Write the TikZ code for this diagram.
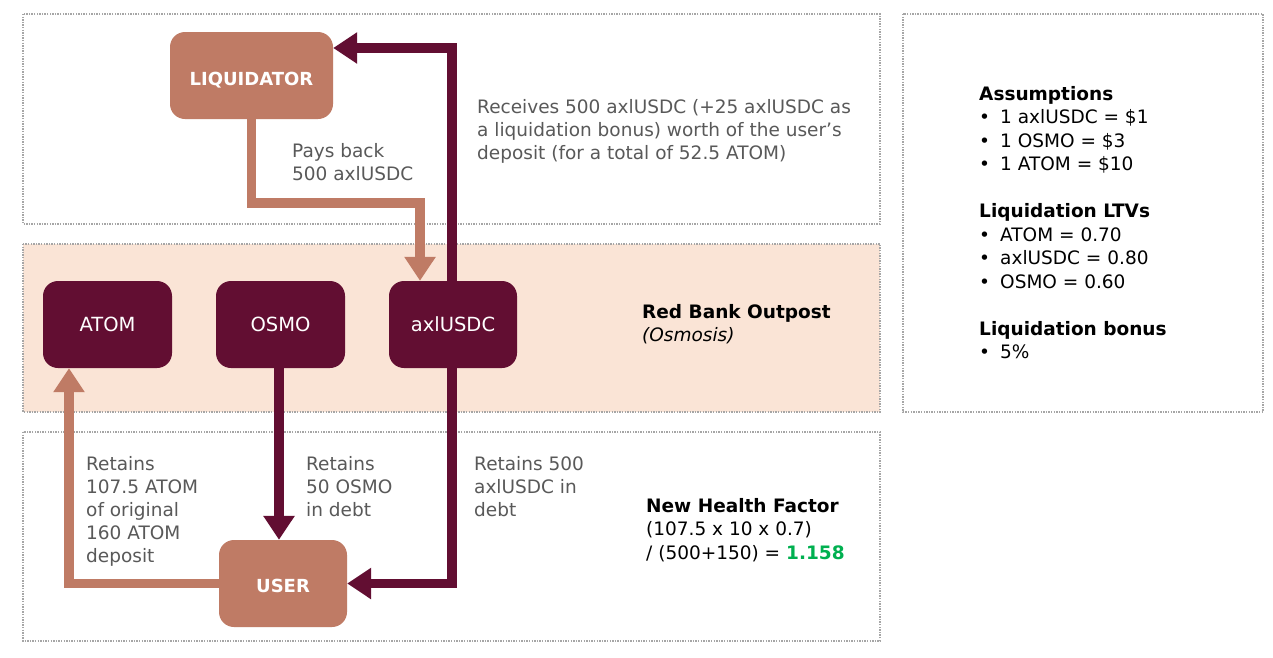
\documentclass[tikz,border=0pt]{standalone}
\usepackage{fontspec}
\setmainfont{DejaVu Sans}
\usetikzlibrary{arrows.meta,calc}
\definecolor{tanc}{HTML}{BF7B65}
\definecolor{darkc}{HTML}{620E32}
\definecolor{bandc}{HTML}{FAE4D6}
\definecolor{grayt}{HTML}{595959}
\definecolor{borderc}{HTML}{A6A6A6}
\definecolor{greenc}{HTML}{00B050}
\newcommand{\mlines}[1]{\begin{tabular}[t]{@{}l@{}}#1\end{tabular}}
\newcommand{\bul}{\makebox[21pt][l]{•}}
\begin{document}
\begin{tikzpicture}[x=1pt,y=-1pt,
  panel/.style={draw=borderc,line width=1.2pt,dash pattern=on 1.4pt off 1.2pt},
  boxbase/.style={rounded corners=15pt,minimum width=#1,minimum height=87pt,inner sep=0pt,text=white,text height=14pt,text depth=0pt},
  tanbox/.style={boxbase=#1,fill=tanc,font=\fontsize{18}{22}\selectfont\bfseries},
  darkbox/.style={boxbase=#1,fill=darkc,font=\fontsize{19.5}{22}\selectfont},
  tanarrow/.style={draw=tanc,line width=9.5pt,line join=miter,-{Triangle[width=30pt,length=24pt]}},
  darkarrow/.style={draw=darkc,line width=9.5pt,line join=miter,-{Triangle[width=30pt,length=24pt]}},
  lbl/.style={anchor=base west,inner sep=0pt,text=grayt,font=\fontsize{18.5}{23}\selectfont},
  info/.style={anchor=base west,inner sep=0pt,text=black,font=\fontsize{18.5}{23.5}\selectfont},
]
\useasboundingbox (0,0) rectangle (1273,657);
\fill[white] (0,0) rectangle (1273,657);
% panels
\draw[panel] (23,14) rectangle (880,224);
\draw[panel,fill=bandc] (23,244) rectangle (880,412);
\draw[panel] (23,432) rectangle (880,641);
\draw[panel] (903,14) rectangle (1263,412);
% nodes
\node[tanbox=163pt] (liq) at (251.5,75.5) {\raisebox{-2.5pt}{LIQUIDATOR}};
\node[darkbox=129pt] (atom) at (107.5,324.5) {ATOM};
\node[darkbox=129pt] (osmo) at (280.5,324.5) {OSMO};
\node[darkbox=128pt] (axl) at (453,324.5) {axlUSDC};
\node[tanbox=128pt] (user) at (283,583.5) {\raisebox{-1.5pt}{USER}};
% connectors
\draw[tanarrow] (liq.south) -- (liq.south |- 0,203) -| ([xshift=-33pt]axl.north);
\draw[darkarrow] ([xshift=-1pt]axl.north) |- ([yshift=27.5pt]liq.east);
\draw[darkarrow] ([xshift=-1pt]axl.south) |- (user.east);
\draw[darkarrow] ([xshift=-1.5pt]osmo.south) -- ([xshift=-1.5pt]osmo.south |- user.north);
\draw[tanarrow] (user.west) -| ([xshift=-38.5pt]atom.south);
% labels
\node[lbl] (l1) at (292,157) {\mlines{Pays back\\500 axlUSDC}};
\node[lbl] (l2) at (477,113) {\mlines{Receives 500 axlUSDC (+25 axlUSDC as\\a liquidation bonus) worth of the user’s\\deposit (for a total of 52.5 ATOM)}};
\node[lbl] (l3) at (86,470) {\mlines{Retains\\107.5 ATOM\\of original\\160 ATOM\\deposit}};
\node[lbl] (l4) at (306,470) {\mlines{Retains\\50 OSMO\\in debt}};
\node[lbl] (l5) at (474,470) {\mlines{Retains 500\\axlUSDC in\\debt}};
\node[info] (rb) at (642,318) {\mlines{\textbf{Red Bank Outpost}\\\textit{(Osmosis)}}};
\node[info] (hf) at (646,512) {\mlines{\textbf{New Health Factor}\\(107.5 x 10 x 0.7)\\/ (500+150) = \textcolor{greenc}{\textbf{1.158}}}};
\node[info] (as) at (979,100) {\mlines{\textbf{Assumptions}\\
\bul 1 axlUSDC = \$1\\
\bul 1 OSMO = \$3\\
\bul 1 ATOM = \$10\\[23.5pt]
\textbf{Liquidation LTVs}\\
\bul ATOM = 0.70\\
\bul axlUSDC = 0.80\\
\bul OSMO = 0.60\\[23.5pt]
\textbf{Liquidation bonus}\\
\bul 5\%}};
\end{tikzpicture}
\end{document}
